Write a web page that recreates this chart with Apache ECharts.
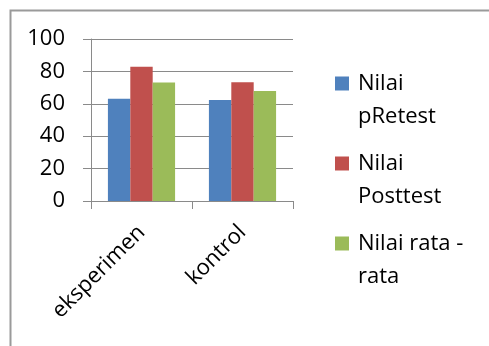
<!DOCTYPE html>
<html>
<head>
<meta charset="utf-8">
<script src="https://cdn.jsdelivr.net/npm/echarts@6/dist/echarts.min.js"></script>
<style>
  html, body { margin: 0; padding: 0; background: #fff; }
  #chart { width: 489px; height: 346px; }
</style>
</head>
<body>
<div id="chart"></div>
<script>
// Kelompok dan nilai rata-rata tiap tes
const categories = ['eksperimen', 'kontrol'];
const seriesNames = ['Nilai pRetest', 'Nilai Posttest', 'Nilai rata - rata'];
const pretest = [63.1, 62.3];
const posttest = [82.8, 73.3];
const rataRata = [73.1, 67.9];
const yTicks = [0, 20, 40, 60, 80, 100];

// Legend labels wrapped onto two lines
const legendLines = {
  'Nilai pRetest': ['Nilai', 'pRetest'],
  'Nilai Posttest': ['Nilai', 'Posttest'],
  'Nilai rata - rata': ['Nilai rata -', 'rata']
};

const colors = ['#4F81BD', '#C0504D', '#9BBB59'];
const FONT = '"Open Sans", "Noto Sans", sans-serif';
const GRID_GRAY = '#8a8a8a';

const chart = echarts.init(document.getElementById('chart'), null, { renderer: 'canvas' });

const values = [pretest, posttest, rataRata];

chart.setOption({
  animation: false,
  color: colors,
  textStyle: { fontFamily: FONT },
  graphic: [{
    type: 'rect',
    left: 8, top: 8,
    shape: { width: 600, height: 600 },
    style: { fill: 'none', stroke: '#9a9a9a', lineWidth: 2 },
    silent: true,
    z: 0
  }],
  grid: { left: 91, right: 196, top: 39, bottom: 145 },
  legend: {
    orient: 'vertical',
    left: 335,
    top: 34,
    padding: 0,
    itemWidth: 14,
    itemHeight: 14,
    itemGap: -19,
    icon: 'rect',
    selectedMode: false,
    data: seriesNames,
    formatter: name => '\n' + legendLines[name].join('\n'),
    textStyle: {
      fontFamily: FONT,
      fontSize: 22,
      lineHeight: 33,
      color: '#000',
      padding: [0, 0, 0, 4]
    }
  },
  xAxis: {
    type: 'category',
    data: categories,
    axisLine: { show: true, lineStyle: { color: GRID_GRAY, width: 1 } },
    axisTick: { show: true, length: 8, alignWithLabel: false, lineStyle: { color: GRID_GRAY } },
    axisLabel: {
      rotate: 45,
      margin: 28,
      fontSize: 22,
      fontFamily: FONT,
      color: '#000'
    }
  },
  yAxis: {
    type: 'value',
    min: yTicks[0],
    max: yTicks[yTicks.length - 1],
    interval: yTicks[1] - yTicks[0],
    axisLine: { show: true, lineStyle: { color: GRID_GRAY, width: 1 } },
    axisTick: { show: true, length: 8, lineStyle: { color: GRID_GRAY } },
    splitLine: { show: true, lineStyle: { color: GRID_GRAY, width: 1 } },
    axisLabel: {
      margin: 26,
      fontSize: 22,
      fontFamily: FONT,
      color: '#000'
    }
  },
  series: seriesNames.map((name, i) => ({
    name: name,
    type: 'bar',
    data: values[i],
    barGap: '0%',
    barCategoryGap: '33.5%',
    itemStyle: { color: colors[i] }
  }))
});
</script>
</body>
</html>
